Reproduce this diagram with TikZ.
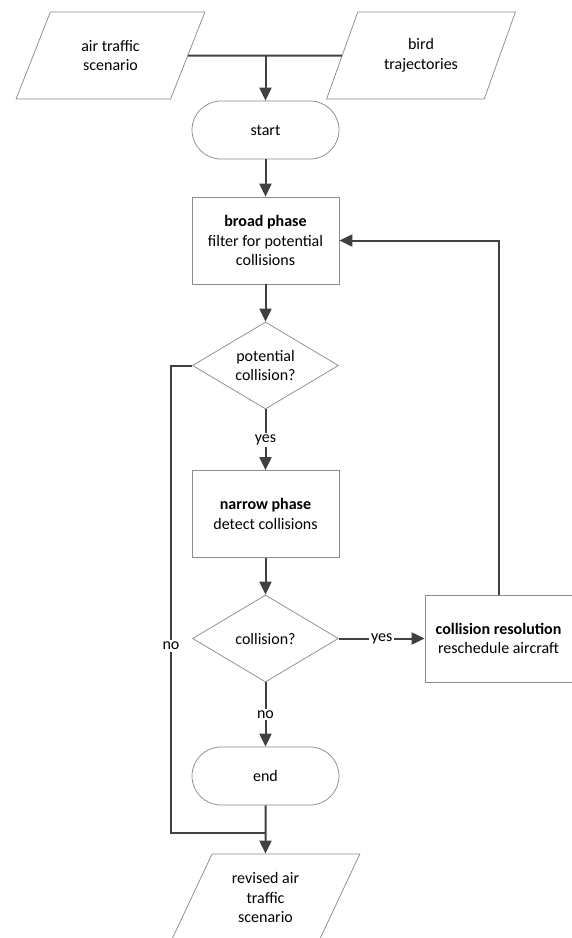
\documentclass[tikz,border=0pt]{standalone}
\usepackage{fontspec}
\setmainfont{Carlito}
\usetikzlibrary{shapes.geometric,arrows.meta}
\definecolor{outline}{HTML}{8C8C8C}
\definecolor{wire}{HTML}{404040}
\begin{document}
\begin{tikzpicture}[x=1pt, y=-1pt,
  every node/.style={font=\fontsize{16}{19.7}\selectfont, align=center},
  terminal/.style={draw=outline, line width=0.75pt, rounded corners=29pt, minimum width=147pt, minimum height=58pt},
  process/.style={draw=outline, line width=0.75pt, minimum width=147pt, minimum height=87pt},
  decision/.style={draw=outline, line width=0.75pt, diamond, aspect=1.68, inner sep=1pt, minimum width=146pt, minimum height=87pt},
  data/.style={draw=outline, line width=0.75pt, trapezium, trapezium left angle=63.7, trapezium right angle=116.3, trapezium stretches=true, minimum width=189pt, minimum height=87pt},
  flow/.style={draw=wire, line width=2pt, -{Triangle[length=13pt,width=12pt]}},
  branch/.style={fill=white, inner sep=2pt}]
\useasboundingbox (0,0) rectangle (571,938);
\node[data] (atraffic) at (110.5,55.5) {air traffic\\scenario};
\node[data] (birds) at (421,55.5) {bird\\trajectories};
\coordinate (merge) at (265.5,55.5);
\node[terminal] (start) at (265.5,130) {start};
\node[process] (broad) at (265.5,240.5) {\textbf{broad phase}\\filter for potential\\collisions};
\node[decision] (pcoll) at (265.5,365.5) {potential\\collision?};
\node[process] (narrow) at (265.5,514) {\textbf{narrow phase}\\detect collisions};
\node[decision] (coll) at (265.5,638.5) {collision?};
\node[process] (resol) at (498.5,638.5) {\textbf{collision resolution}\\reschedule aircraft};
\node[terminal] (end) at (265.5,776) {end};
\node[data] (revised) at (265.5,897.5) {revised air\\traffic\\scenario};
\coordinate (nocorner) at (171,833);
\coordinate (nojoin) at (265.5,833);
\draw[flow,-] (atraffic.east) -- (birds.west);
\draw[flow] (merge) -- (start.north);
\draw[flow] (start) -- (broad);
\draw[flow] (broad) -- (pcoll);
\draw[flow] (pcoll) -- node[branch] {yes} (narrow);
\draw[flow] (narrow) -- (coll);
\draw[flow] (coll) -- node[branch] {yes} (resol);
\draw[flow] (coll) -- node[branch] {no} (end);
\draw[flow] (resol.north) |- (broad.east);
\draw[flow,-] (pcoll.west) -| node[branch, pos=0.8] {no} (nocorner) -- (nojoin);
\draw[flow] (end) -- (revised);
\end{tikzpicture}
\end{document}
